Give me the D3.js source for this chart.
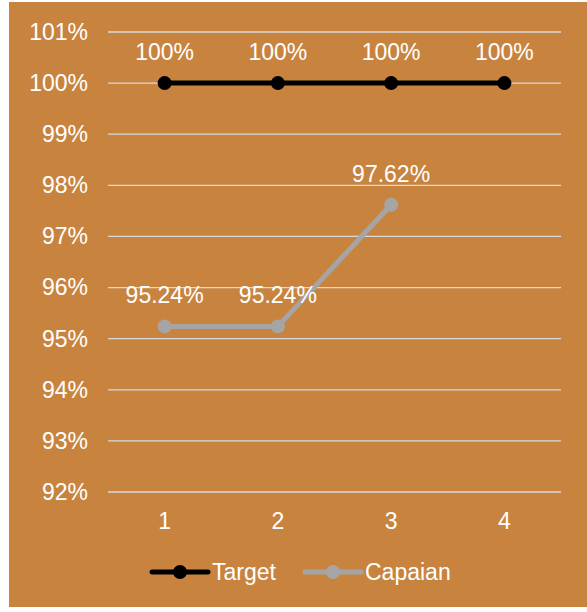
<!DOCTYPE html>
<html><head><meta charset="utf-8">
<script src="https://cdn.jsdelivr.net/npm/d3@7"></script>
<style>
html,body{margin:0;padding:0;background:#fff;}
svg{display:block;font-family:"Liberation Sans",Arial,sans-serif;}
</style></head>
<body>
<svg id="chart" width="587" height="612"></svg>
<script>
const categories = ["1","2","3","4"];
const targetValues = [100, 100, 100, 100];
const capaianValues = [95.24, 95.24, 97.62];
const targetLabels = ["100%","100%","100%","100%"];
const capaianLabels = ["95.24%","95.24%","97.62%"];
const yTicks = [92,93,94,95,96,97,98,99,100,101];
const seriesNames = ["Target","Capaian"];
const seriesColors = ["#000000","#A5A5A5"];

const FS = 23;
const svg = d3.select("#chart");
svg.append("rect").attr("x",9).attr("y",2).attr("width",578).attr("height",605).attr("fill","#C8843F");

const plotL=108, plotR=561, plotT=32, plotB=492;
const x = d3.scaleBand().domain(categories).range([plotL,plotR]);
const y = d3.scaleLinear().domain([92,101]).range([plotB,plotT]);
const cx = c => x(c)+x.bandwidth()/2;

// gridlines
svg.append("g").selectAll("line").data(yTicks).join("line")
  .attr("x1",plotL).attr("x2",plotR)
  .attr("y1",d=>y(d)).attr("y2",d=>y(d))
  .attr("stroke","#D9D9D9").attr("stroke-width",1.3);

// y axis labels
const yAxis = d3.axisLeft(y).tickValues(yTicks).tickFormat(d=>d+"%").tickSize(0).tickPadding(20);
const ga = svg.append("g").attr("transform",`translate(${plotL},0)`).call(yAxis);
ga.select(".domain").remove();
ga.selectAll("text").attr("fill","#fff").attr("font-size",FS).attr("font-family","Liberation Sans, Arial, sans-serif");

// x axis labels
const xAxis = d3.axisBottom(x).tickSize(0).tickPadding(21);
const gx = svg.append("g").attr("transform",`translate(0,${plotB})`).call(xAxis);
gx.select(".domain").remove();
gx.selectAll("text").attr("fill","#fff").attr("font-size",FS).attr("font-family","Liberation Sans, Arial, sans-serif");

function drawSeries(vals, labels, color, width, r){
  const data = vals.map((v,i)=>({c:categories[i], v, l:labels[i]}));
  const line = d3.line().x(d=>cx(d.c)).y(d=>y(d.v));
  svg.append("path").datum(data).attr("d",line).attr("fill","none")
    .attr("stroke",color).attr("stroke-width",width).attr("stroke-linejoin","round").attr("stroke-linecap","round");
  svg.append("g").selectAll("circle").data(data).join("circle")
    .attr("cx",d=>cx(d.c)).attr("cy",d=>y(d.v)).attr("r",r).attr("fill",color);
  svg.append("g").selectAll("text").data(data).join("text")
    .attr("x",d=>cx(d.c)).attr("y",d=>y(d.v)-23).attr("text-anchor","middle")
    .attr("fill","#fff").attr("font-size",FS).text(d=>d.l);
}
drawSeries(capaianValues, capaianLabels, seriesColors[1], 5, 7);
drawSeries(targetValues, targetLabels, seriesColors[0], 5, 7);

// legend
const legendItems = [{n:seriesNames[0],c:seriesColors[0],x:152},{n:seriesNames[1],c:seriesColors[1],x:305}];
const lg = svg.append("g");
legendItems.forEach(it=>{
  lg.append("line").attr("x1",it.x).attr("x2",it.x+56).attr("y1",572).attr("y2",572)
    .attr("stroke",it.c).attr("stroke-width",5).attr("stroke-linecap","round");
  lg.append("circle").attr("cx",it.x+28).attr("cy",572).attr("r",7).attr("fill",it.c);
  lg.append("text").attr("x",it.x+60).attr("y",580).attr("fill","#fff").attr("font-size",FS).text(it.n);
});
</script>
</body></html>
